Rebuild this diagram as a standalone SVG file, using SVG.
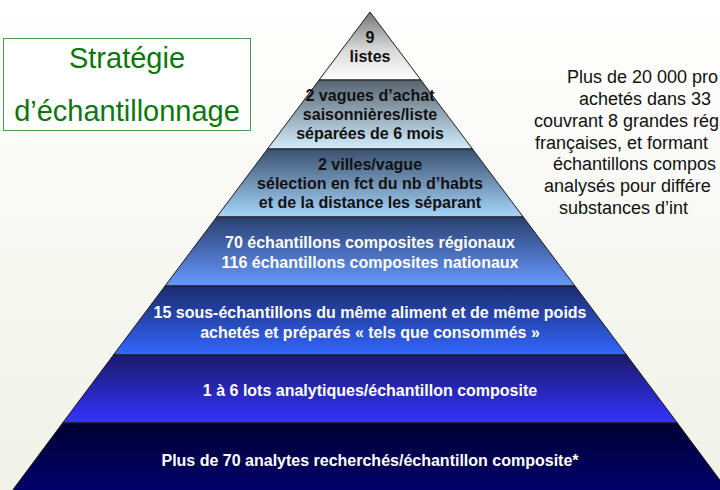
<svg xmlns="http://www.w3.org/2000/svg" width="720" height="490" viewBox="0 0 720 490">
  <defs>
    <linearGradient id="bg" x1="0" y1="0" x2="0" y2="1">
      <stop offset="0" stop-color="#ffffff"/>
      <stop offset="1" stop-color="#f0f2e7"/>
    </linearGradient>
    <linearGradient id="g1" x1="0" y1="0" x2="0" y2="1">
      <stop offset="0" stop-color="#777777"/>
      <stop offset="0.55" stop-color="#d8d8d8"/>
      <stop offset="1" stop-color="#ffffff"/>
    </linearGradient>
    <linearGradient id="g2" x1="0" y1="0" x2="0" y2="1">
      <stop offset="0" stop-color="#566470"/>
      <stop offset="1" stop-color="#d2edfc"/>
    </linearGradient>
    <linearGradient id="g3" x1="0" y1="0" x2="0" y2="1">
      <stop offset="0" stop-color="#3b5070"/>
      <stop offset="1" stop-color="#a6d6fa"/>
    </linearGradient>
    <linearGradient id="g4" x1="0" y1="0" x2="0" y2="1">
      <stop offset="0" stop-color="#2a3f70"/>
      <stop offset="1" stop-color="#6699ff"/>
    </linearGradient>
    <linearGradient id="g5" x1="0" y1="0" x2="0" y2="1">
      <stop offset="0" stop-color="#1b2b6c"/>
      <stop offset="1" stop-color="#3366ff"/>
    </linearGradient>
    <linearGradient id="g6" x1="0" y1="0" x2="0" y2="1">
      <stop offset="0" stop-color="#1a1a6a"/>
      <stop offset="1" stop-color="#3333ff"/>
    </linearGradient>
    <linearGradient id="g7" x1="0" y1="0" x2="0" y2="1">
      <stop offset="0" stop-color="#000033"/>
      <stop offset="1" stop-color="#00006b"/>
    </linearGradient>
  </defs>
  <style>
    .layer { stroke: #1a1a1a; stroke-width: 1; stroke-linejoin: miter; }
    .dk { font-family: "Liberation Sans", Arial, sans-serif; font-weight: bold; font-size: 16px; fill: #111111; text-anchor: middle; }
    .lt { font-family: "Liberation Sans", Arial, sans-serif; font-weight: bold; font-size: 16px; fill: #ffffff; text-anchor: middle; }
    .title { font-family: "Liberation Sans", Arial, sans-serif; font-size: 29px; fill: #0b780b; text-anchor: middle; }
    .side { font-family: "Liberation Sans", Arial, sans-serif; font-size: 18px; fill: #111111; }
  </style>

  <rect x="0" y="0" width="720" height="490" fill="url(#bg)"/>

  <g id="title">
    <rect x="3.5" y="38.5" width="247" height="92" fill="#ffffff" stroke="#4c9a4c" stroke-width="1"/>
    <text class="title" x="127" y="68">Stratégie</text>
    <text class="title" x="127" y="121">d’échantillonnage</text>
  </g>

  <g id="side-text">
    <text class="side" x="567" y="83">Plus de 20 000 pro</text>
    <text class="side" x="579" y="105">achetés dans 33</text>
    <text class="side" x="534" y="127">couvrant 8 grandes rég</text>
    <text class="side" x="535" y="148.5">françaises, et formant</text>
    <text class="side" x="553" y="170">échantillons compos</text>
    <text class="side" x="544" y="192">analysés pour différe</text>
    <text class="side" x="559" y="214">substances d’int</text>
  </g>

  <g id="layer1">
    <polygon class="layer" fill="url(#g1)" points="370,12 420.9,80 319.1,80"/>
    <text class="dk" x="370" y="43">9</text>
    <text class="dk" x="370" y="62">listes</text>
  </g>
  <g id="layer2">
    <polygon class="layer" fill="url(#g2)" points="319.1,80 420.9,80 472.5,149 267.5,149"/>
    <text class="dk" x="370" y="101">2 vagues d’achat</text>
    <text class="dk" x="370" y="120">saisonnières/liste</text>
    <text class="dk" x="370" y="139">séparées de 6 mois</text>
  </g>
  <g id="layer3">
    <polygon class="layer" fill="url(#g3)" points="267.5,149 472.5,149 523.3,217 216.7,217"/>
    <text class="dk" x="370" y="169.5">2 villes/vague</text>
    <text class="dk" x="370" y="189">sélection en fct du nb d’habts</text>
    <text class="dk" x="370" y="208">et de la distance les séparant</text>
  </g>
  <g id="layer4">
    <polygon class="layer" fill="url(#g4)" points="216.7,217 523.3,217 575,286 165,286"/>
    <text class="lt" x="370" y="248">70 échantillons composites régionaux</text>
    <text class="lt" x="370" y="268">116 échantillons composites nationaux</text>
  </g>
  <g id="layer5">
    <polygon class="layer" fill="url(#g5)" points="165,286 575,286 626.6,355 113.4,355"/>
    <text class="lt" x="370" y="318">15 sous-échantillons du même aliment et de même poids</text>
    <text class="lt" x="370" y="338">achetés et préparés « tels que consommés »</text>
  </g>
  <g id="layer6">
    <polygon class="layer" fill="url(#g6)" points="113.4,355 626.6,355 677.4,423 62.6,423"/>
    <text class="lt" x="370" y="396">1 à 6 lots analytiques/échantillon composite</text>
  </g>
  <g id="layer7">
    <polygon class="layer" fill="url(#g7)" points="62.6,423 677.4,423 728,491 12,491"/>
    <text class="lt" x="370" y="466">Plus de 70 analytes recherchés/échantillon composite*</text>
  </g>
</svg>
